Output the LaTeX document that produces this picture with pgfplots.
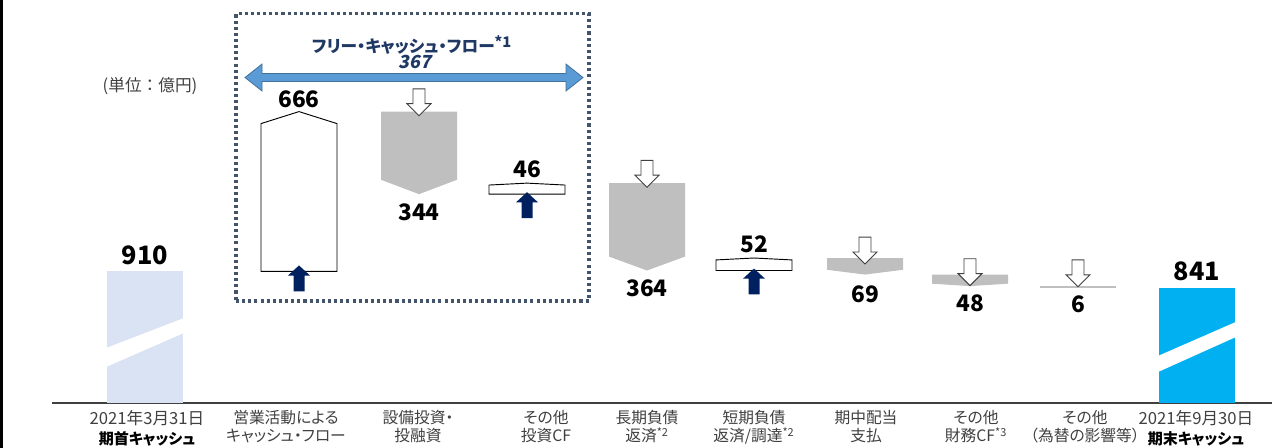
\documentclass[border=0pt]{standalone}
\usepackage{fontspec}
\setmainfont{Noto Sans CJK JP}[RawFeature={+palt}]
\newfontfamily\fwfont{Noto Sans CJK JP}
\newfontfamily\slnum{Noto Sans CJK JP}[FakeSlant=0.2]
\usepackage{pgfplots}
\pgfplotsset{compat=1.18}
\definecolor{startc}{HTML}{DAE3F3}
\definecolor{endc}{HTML}{00B0F0}
\definecolor{greyb}{HTML}{BFBFBF}
\definecolor{navyar}{HTML}{002060}
\definecolor{boxc}{HTML}{44546A}
\definecolor{titlec}{HTML}{1F3864}
\definecolor{dblar}{HTML}{5B9BD5}
\definecolor{dblard}{HTML}{41719C}
\definecolor{txtc}{HTML}{404040}
\begin{document}
\begin{tikzpicture}
\begin{axis}[name=ax, scale only axis, width=954pt, height=336pt,
  xmin=0, xmax=1272, ymin=174.5, ymax=2041, hide axis, clip=false]
% left border strip
\addplot[fill=black, draw=none] coordinates {(0,174.5) (3,174.5) (3,2041) (0,2041)} -- cycle;
% baseline
\addplot[draw=txtc, line width=1.1pt] coordinates {(52,362) (1272,362)};
% dotted frame (free cash flow)
\addplot[draw=boxc, line width=2.3pt, dash pattern=on 2.3pt off 2.3pt] coordinates {(236,787) (589,787) (589,1983) (236,1983)} -- cycle;
% double arrow
\addplot[fill=dblar, draw=dblard, line width=0.6pt] coordinates {(245,1718) (262,1774) (262,1735) (566,1735) (566,1774) (583,1718) (566,1662) (566,1701) (262,1701) (262,1662)} -- cycle;
% start bar 910
\addplot[fill=startc, draw=none] coordinates {(107,362) (183,362) (183,910) (107,910)} -- cycle;
\addplot[fill=white, draw=none] coordinates {(106,512) (184,654) (184,716) (106,591)} -- cycle;
% end bar 841
\addplot[fill=endc, draw=none] coordinates {(1159,362) (1235,362) (1235,841) (1159,841)} -- cycle;
\addplot[fill=white, draw=none] coordinates {(1158,491) (1236,637) (1236,700) (1158,558)} -- cycle;
% +666
\addplot[fill=white, draw=black, line width=0.7pt] coordinates {(261,910) (337,910) (337,1526) (299,1576) (261,1526)} -- cycle;
% -344
\addplot[fill=greyb, draw=none] coordinates {(381,1576) (457,1576) (457,1292) (419,1232) (381,1292)} -- cycle;
% +46
\addplot[fill=white, draw=black, line width=0.7pt] coordinates {(489,1232) (565,1232) (565,1270) (527,1278) (489,1270)} -- cycle;
% -364
\addplot[fill=greyb, draw=none] coordinates {(609,1278) (685,1278) (685,972) (647,914) (609,972)} -- cycle;
% +52
\addplot[fill=white, draw=black, line width=0.7pt] coordinates {(716,914) (792,914) (792,958) (754,966) (716,958)} -- cycle;
% -69
\addplot[fill=greyb, draw=none] coordinates {(827,966) (903,966) (903,917) (865,897) (827,917)} -- cycle;
% -48
\addplot[fill=greyb, draw=none] coordinates {(932,897) (1008,897) (1008,859) (970,849) (932,859)} -- cycle;
% -6
\addplot[fill=greyb, draw=none] coordinates {(1040,849) (1116,849) (1116,843) (1040,843)} -- cycle;
% up arrows (navy)
\addplot[fill=navyar, draw=none] coordinates {(293.5,827) (304.5,827) (304.5,893) (310,893) (299,935) (288,893) (293.5,893)} -- cycle;
\addplot[fill=navyar, draw=none] coordinates {(521.5,1132) (532.5,1132) (532.5,1198) (538,1198) (527,1240) (516,1198) (521.5,1198)} -- cycle;
\addplot[fill=navyar, draw=none] coordinates {(748.5,814) (759.5,814) (759.5,880) (765,880) (754,922) (743,880) (748.5,880)} -- cycle;
% down arrows (outline)
\addplot[fill=white, draw=black!75, line width=0.7pt] coordinates {(413,1671) (425,1671) (425,1609) (431,1609) (419,1559) (407,1609) (413,1609)} -- cycle;
\addplot[fill=white, draw=black!75, line width=0.7pt] coordinates {(641,1373) (653,1373) (653,1311) (659,1311) (647,1261) (635,1311) (641,1311)} -- cycle;
\addplot[fill=white, draw=black!75, line width=0.7pt] coordinates {(859,1053) (871,1053) (871,991) (877,991) (865,941) (853,991) (859,991)} -- cycle;
\addplot[fill=white, draw=black!75, line width=0.7pt] coordinates {(964,963) (976,963) (976,901) (982,901) (970,851) (958,901) (964,901)} -- cycle;
\addplot[fill=white, draw=black!75, line width=0.7pt] coordinates {(1072,958) (1084,958) (1084,896) (1090,896) (1078,846) (1066,896) (1072,896)} -- cycle;
% value labels
\node[anchor=south, inner sep=0pt, yshift=5pt, font=\fontsize{19}{19}\selectfont\bfseries] at (145,910) {910};
\node[anchor=south, inner sep=0pt, yshift=5pt, font=\fontsize{19}{19}\selectfont\bfseries] at (1197,841) {841};
\node[anchor=south, inner sep=0pt, yshift=3pt, font=\fontsize{17}{17}\selectfont\bfseries] at (299,1576) {666};
\node[anchor=south, inner sep=0pt, yshift=4pt, font=\fontsize{17}{17}\selectfont\bfseries] at (527,1278) {46};
\node[anchor=south, inner sep=0pt, yshift=4pt, font=\fontsize{17}{17}\selectfont\bfseries] at (754,966) {52};
\node[anchor=north, inner sep=0pt, yshift=-7pt, font=\fontsize{17}{17}\selectfont\bfseries] at (419,1232) {344};
\node[anchor=north, inner sep=0pt, yshift=-7pt, font=\fontsize{17}{17}\selectfont\bfseries] at (647,914) {364};
\node[anchor=north, inner sep=0pt, yshift=-8pt, font=\fontsize{17}{17}\selectfont\bfseries] at (865,897) {69};
\node[anchor=north, inner sep=0pt, yshift=-6pt, font=\fontsize{17}{17}\selectfont\bfseries] at (970,849) {48};
\node[anchor=north, inner sep=0pt, yshift=-6pt, font=\fontsize{17}{17}\selectfont\bfseries] at (1078,843) {6};
% titles
\node[inner sep=0pt, text=titlec, font=\fontsize{12.5}{12.5}\selectfont\bfseries] at (412,1854) {フリー・キャッシュ・フロー\textsuperscript{\fontsize{11}{11}\selectfont *1}};
\node[inner sep=0pt, text=titlec, font=\fontsize{13.5}{13.5}\selectfont\bfseries\slnum] at (415,1783) {367};
\node[inner sep=0pt, text=txtc, font=\fontsize{12.5}{12.5}\selectfont\fwfont] at (150,1683) {(単位：億円)};
% category labels
\tikzset{cat/.style={anchor=north, inner sep=0pt, align=center, text=txtc, font=\fontsize{11.8}{14}\selectfont}}
\node[cat, font=\fontsize{12.5}{15}\selectfont] at (147,334) {2021年3月31日\\\textcolor{black}{\fontsize{11.3}{15}\selectfont\bfseries 期首キャッシュ}};
\node[cat] at (286,334) {営業活動による\\キャッシュ・フロー};
\node[cat] at (418,334) {設備投資・\\投融資};
\node[cat] at (546,334) {その他\\投資CF};
\node[cat] at (647,334) {長期負債\\返済\textsuperscript{*2}};
\node[cat] at (754,334) {短期負債\\返済/調達\textsuperscript{*2}};
\node[cat] at (866,334) {期中配当\\支払};
\node[cat] at (976,334) {その他\\財務CF\textsuperscript{*3}};
\node[cat] at (1085,334) {その他\\（為替の影響等）};
\node[cat, font=\fontsize{12.5}{15}\selectfont] at (1196,334) {2021年9月30日\\\textcolor{black}{\fontsize{11.3}{15}\selectfont\bfseries 期末キャッシュ}};
\end{axis}
\pgfresetboundingbox
\path[use as bounding box] (ax.south west) rectangle (ax.north east);
\end{tikzpicture}
\end{document}
